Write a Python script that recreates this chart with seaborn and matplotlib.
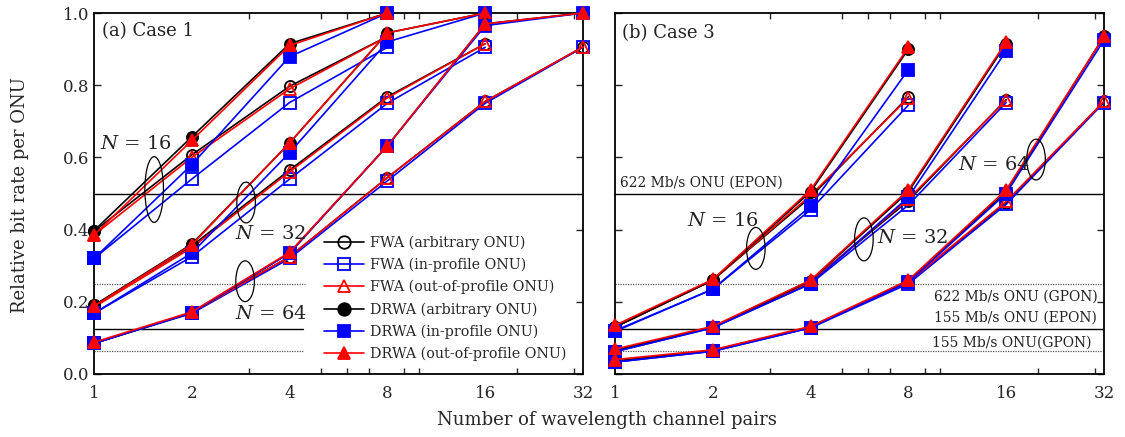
import numpy as np
import pandas as pd
import matplotlib
matplotlib.use("Agg")
import matplotlib.pyplot as plt
from matplotlib.lines import Line2D
from matplotlib.patches import Ellipse
from matplotlib.ticker import FixedLocator, FixedFormatter, NullFormatter
import seaborn as sns

# ---------------------------------------------------------------- data
channels = [1, 2, 4, 8, 16, 32]

# Case 1 -------------------------------------------------------------
c1_n16_fwa_arb = [0.395, 0.607, 0.797, 0.935]
c1_n16_fwa_in = [0.320, 0.540, 0.752, 0.905]
c1_n16_fwa_out = [0.385, 0.600, 0.790, 0.935]
c1_n16_drwa_arb = [0.397, 0.657, 0.915, 1.000]
c1_n16_drwa_in = [0.320, 0.580, 0.879, 1.000]
c1_n16_drwa_out = [0.385, 0.647, 0.910, 1.000]

c1_n32_fwa_arb = [0.190, 0.355, 0.565, 0.768, 0.915]
c1_n32_fwa_in = [0.168, 0.325, 0.540, 0.750, 0.905]
c1_n32_fwa_out = [0.185, 0.350, 0.560, 0.765, 0.915]
c1_n32_drwa_arb = [0.190, 0.360, 0.640, 0.945, 1.000]
c1_n32_drwa_in = [0.168, 0.335, 0.613, 0.920, 1.000]
c1_n32_drwa_out = [0.188, 0.358, 0.640, 0.945, 1.000]

c1_n64_fwa_arb = [0.085, 0.170, 0.325, 0.544, 0.755, 0.906]
c1_n64_fwa_in = [0.085, 0.168, 0.320, 0.535, 0.750, 0.905]
c1_n64_fwa_out = [0.085, 0.170, 0.325, 0.544, 0.755, 0.906]
c1_n64_drwa_arb = [0.085, 0.170, 0.335, 0.632, 0.970, 1.000]
c1_n64_drwa_in = [0.085, 0.170, 0.335, 0.632, 0.965, 1.000]
c1_n64_drwa_out = [0.088, 0.172, 0.337, 0.632, 0.970, 1.000]

# Case 3 -------------------------------------------------------------
c3_n16_fwa_arb = [0.130, 0.260, 0.490, 0.768]
c3_n16_fwa_in = [0.120, 0.235, 0.455, 0.745]
c3_n16_fwa_out = [0.130, 0.260, 0.495, 0.765]
c3_n16_drwa_arb = [0.130, 0.260, 0.505, 0.900]
c3_n16_drwa_in = [0.118, 0.235, 0.465, 0.843]
c3_n16_drwa_out = [0.135, 0.262, 0.510, 0.905]

c3_n32_fwa_arb = [0.065, 0.130, 0.255, 0.480, 0.760]
c3_n32_fwa_in = [0.062, 0.128, 0.250, 0.468, 0.752]
c3_n32_fwa_out = [0.065, 0.130, 0.255, 0.485, 0.758]
c3_n32_drwa_arb = [0.065, 0.130, 0.258, 0.505, 0.915]
c3_n32_drwa_in = [0.062, 0.128, 0.250, 0.490, 0.895]
c3_n32_drwa_out = [0.069, 0.132, 0.260, 0.510, 0.920]

c3_n64_fwa_arb = [0.035, 0.065, 0.130, 0.255, 0.475, 0.755]
c3_n64_fwa_in = [0.033, 0.063, 0.128, 0.250, 0.470, 0.752]
c3_n64_fwa_out = [0.035, 0.065, 0.130, 0.255, 0.478, 0.755]
c3_n64_drwa_arb = [0.035, 0.065, 0.130, 0.258, 0.505, 0.935]
c3_n64_drwa_in = [0.033, 0.063, 0.128, 0.255, 0.500, 0.925]
c3_n64_drwa_out = [0.040, 0.067, 0.132, 0.260, 0.510, 0.935]

series_labels = [
    "FWA (arbitrary ONU)",
    "FWA (in-profile ONU)",
    "FWA (out-of-profile ONU)",
    "DRWA (arbitrary ONU)",
    "DRWA (in-profile ONU)",
    "DRWA (out-of-profile ONU)",
]

# ONU reference rates (fraction of the line rate)
ref_levels = [0.5, 0.25, 0.125, 0.0625]
ref_labels = ["622 Mb/s ONU (EPON)", "622 Mb/s ONU (GPON)",
              "155 Mb/s ONU (EPON)", "155 Mb/s ONU(GPON)"]

# ---------------------------------------------------------------- table
groups = {
    ("Case 1", 16): [c1_n16_fwa_arb, c1_n16_fwa_in, c1_n16_fwa_out,
                     c1_n16_drwa_arb, c1_n16_drwa_in, c1_n16_drwa_out],
    ("Case 1", 32): [c1_n32_fwa_arb, c1_n32_fwa_in, c1_n32_fwa_out,
                     c1_n32_drwa_arb, c1_n32_drwa_in, c1_n32_drwa_out],
    ("Case 1", 64): [c1_n64_fwa_arb, c1_n64_fwa_in, c1_n64_fwa_out,
                     c1_n64_drwa_arb, c1_n64_drwa_in, c1_n64_drwa_out],
    ("Case 3", 16): [c3_n16_fwa_arb, c3_n16_fwa_in, c3_n16_fwa_out,
                     c3_n16_drwa_arb, c3_n16_drwa_in, c3_n16_drwa_out],
    ("Case 3", 32): [c3_n32_fwa_arb, c3_n32_fwa_in, c3_n32_fwa_out,
                     c3_n32_drwa_arb, c3_n32_drwa_in, c3_n32_drwa_out],
    ("Case 3", 64): [c3_n64_fwa_arb, c3_n64_fwa_in, c3_n64_fwa_out,
                     c3_n64_drwa_arb, c3_n64_drwa_in, c3_n64_drwa_out],
}
rows = []
for (case, n), values in groups.items():
    for label, ys in zip(series_labels, values):
        for x, y in zip(channels, ys):
            rows.append(dict(case=case, N=n, series=label, channels=x, rate=y))
df = pd.DataFrame(rows)

# ---------------------------------------------------------------- styles
styles = {
    "FWA (arbitrary ONU)": dict(color="black", marker="o", markerfacecolor="none"),
    "FWA (in-profile ONU)": dict(color="#0000ff", marker="s", markerfacecolor="none"),
    "FWA (out-of-profile ONU)": dict(color="#ff0000", marker="^", markerfacecolor="none"),
    "DRWA (arbitrary ONU)": dict(color="black", marker="o", markerfacecolor="black"),
    "DRWA (in-profile ONU)": dict(color="#0000ff", marker="s", markerfacecolor="#0000ff"),
    "DRWA (out-of-profile ONU)": dict(color="#ff0000", marker="^", markerfacecolor="#ff0000"),
}
MS = 8
LW = 1.2

sns.set_style("ticks")
plt.rcParams["font.family"] = ["DejaVu Serif"]
plt.rcParams["mathtext.fontset"] = "dejavuserif"

W, H = 1125, 437
fig = plt.figure(figsize=(W / 100, H / 100), dpi=100)
ax1 = fig.add_axes([94 / W, 63 / H, 489 / W, 361 / H])
ax2 = fig.add_axes([615 / W, 63 / H, 489 / W, 361 / H])

for ax, case in [(ax1, "Case 1"), (ax2, "Case 3")]:
    sub_case = df[df["case"] == case]
    for n in [16, 32, 64]:
        for label in series_labels:
            st = styles[label]
            d = sub_case[(sub_case["N"] == n) & (sub_case["series"] == label)]
            sns.lineplot(data=d, x="channels", y="rate", ax=ax,
                         estimator=None, sort=False, legend=False,
                         color=st["color"], marker=st["marker"],
                         markerfacecolor=st["markerfacecolor"],
                         markeredgecolor=st["color"], markeredgewidth=1.3,
                         markersize=MS, linewidth=LW, clip_on=False, zorder=3)

    ax.set_xscale("log", base=2)
    ax.set_xlim(1, 32)
    ax.set_ylim(0, 1.0)
    ax.set_xlabel("")
    ax.set_ylabel("")
    ax.xaxis.set_major_locator(FixedLocator(channels))
    ax.xaxis.set_major_formatter(FixedFormatter([str(c) for c in channels]))
    ax.xaxis.set_minor_locator(FixedLocator([2, 3, 4, 5, 6, 7, 8, 9, 10, 20, 30]))
    ax.xaxis.set_minor_formatter(NullFormatter())
    ax.set_yticks(np.arange(0, 1.01, 0.2))
    ax.tick_params(axis="x", which="major", length=0, pad=8, labelsize=12)
    ax.tick_params(axis="x", which="minor", direction="in", length=4,
                   width=1.0, top=True, bottom=True)
    ax.tick_params(axis="y", which="major", direction="in", length=5,
                   width=1.0, left=True, right=True, labelsize=12)
    for sp in ax.spines.values():
        sp.set_visible(True)
        sp.set_linewidth(1.3)
        sp.set_color("black")

ax1.yaxis.set_major_formatter(matplotlib.ticker.FormatStrFormatter("%.1f"))
ax2.tick_params(axis="y", labelleft=False)

# reference rates
ax1.axhline(ref_levels[0], color="black", lw=1.0, zorder=1)
ax1.axhline(ref_levels[1], xmax=0.431, color="#555555", lw=0.9, ls=(0, (1, 1)), zorder=1)
ax1.axhline(ref_levels[2], xmax=0.427, color="black", lw=1.0, zorder=1)
ax1.axhline(ref_levels[3], xmax=0.427, color="#555555", lw=0.9, ls=(0, (1, 1)), zorder=1)

ax2.axhline(ref_levels[0], color="black", lw=1.0, zorder=1)
ax2.axhline(ref_levels[1], color="#555555", lw=0.9, ls=(0, (1, 1)), zorder=1)
ax2.axhline(ref_levels[2], color="black", lw=1.0, zorder=1)
ax2.axhline(ref_levels[3], color="#555555", lw=0.9, ls=(0, (1, 1)), zorder=1)

rfs = 10
ax2.text(0.01, 0.53, ref_labels[0], transform=ax2.transAxes, fontsize=rfs,
         ha="left", va="center", color="#222222")
ax2.text(0.988, 0.215, ref_labels[1], transform=ax2.transAxes, fontsize=rfs,
         ha="right", va="center", color="#222222")
ax2.text(0.986, 0.155, ref_labels[2], transform=ax2.transAxes, fontsize=rfs,
         ha="right", va="center", color="#222222")
ax2.text(0.975, 0.088, ref_labels[3], transform=ax2.transAxes, fontsize=rfs,
         ha="right", va="center", color="#222222")

# panel titles
ax1.text(0.017, 0.95, "(a) Case 1", transform=ax1.transAxes, fontsize=13,
         ha="left", va="center", color="#222222")
ax2.text(0.014, 0.945, "(b) Case 3", transform=ax2.transAxes, fontsize=13,
         ha="left", va="center", color="#222222")

# group markers: ellipse + N label
def group_tag(ax, ex, ey, eh, tx, ty, n):
    ax.add_patch(Ellipse((ex, ey), 0.038, eh, transform=ax.transAxes,
                         fill=False, edgecolor="black", lw=0.9, zorder=5))
    ax.text(tx, ty, r"$N$ = %d" % n, transform=ax.transAxes, fontsize=14,
            ha="left", va="center", color="#222222", zorder=5)

group_tag(ax1, 0.123, 0.511, 0.182, 0.012, 0.638, 16)
group_tag(ax1, 0.311, 0.475, 0.113, 0.288, 0.387, 32)
group_tag(ax1, 0.309, 0.257, 0.113, 0.288, 0.166, 64)

group_tag(ax2, 0.288, 0.348, 0.116, 0.147, 0.423, 16)
group_tag(ax2, 0.509, 0.373, 0.119, 0.536, 0.376, 32)
group_tag(ax2, 0.861, 0.594, 0.113, 0.701, 0.580, 64)

# legend
handles = [Line2D([], [], color=styles[l]["color"], marker=styles[l]["marker"],
                  markerfacecolor=styles[l]["markerfacecolor"],
                  markeredgecolor=styles[l]["color"], markeredgewidth=1.3,
                  markersize=MS + 1, linewidth=LW) for l in series_labels]
ax1.legend(handles, series_labels, loc="center left", bbox_to_anchor=(0.470, 0.21),
           frameon=False, fontsize=10.3, handlelength=2.8, handletextpad=0.4,
           labelspacing=0.55, borderpad=0, borderaxespad=0)

fig.text(20 / W, 1 - 195 / H, "Relative bit rate per ONU", rotation=90,
         ha="center", va="center", fontsize=13)
fig.text(607 / W, 17 / H, "Number of wavelength channel pairs",
         ha="center", va="center", fontsize=13)

fig.savefig("out.png", dpi=100)
